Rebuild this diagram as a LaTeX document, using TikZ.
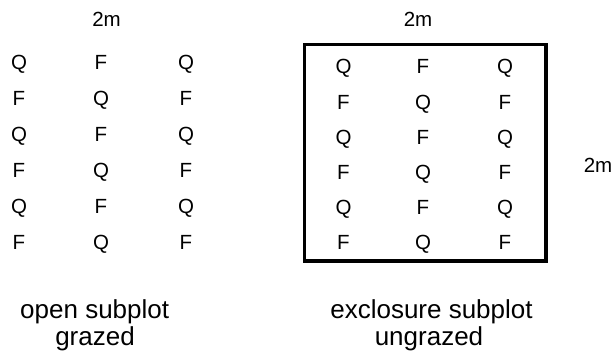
\documentclass[tikz,border=0pt]{standalone}
\usepackage{fontspec}
\setmainfont{Liberation Sans}
\begin{document}
\begin{tikzpicture}[x=1pt,y=-1pt,
  letter/.style={inner sep=0pt,anchor=base,font=\fontsize{20.5}{24}\selectfont},
  dim/.style={inner sep=0pt,anchor=base,font=\fontsize{20.5}{24}\selectfont},
  caption/.style={inner sep=0pt,anchor=base,font=\fontsize{26}{30}\selectfont},
  fence/.style={draw=black,line width=3.5pt}]
\useasboundingbox (0,0) rectangle (614,356);
% open subplot grid
\foreach \r [evaluate=\r as \yy using 61.7+36*(\r-1)+7.3] in {1,...,6}{
  \foreach \c/\xx in {1/19,2/101,3/186}{
    \pgfmathtruncatemacro{\odd}{mod(\r+\c,2)}
    \ifnum\odd=0
      \node[letter] (L-\r-\c) at (\xx,\yy) {Q};
    \else
      \node[letter] (L-\r-\c) at (\xx,\yy) {F};
    \fi
  }
}
% exclosure subplot grid
\foreach \r [evaluate=\r as \yy using 66.7+35*(\r-1)+7.3] in {1,...,6}{
  \foreach \c/\xx in {1/343.5,2/423,3/505}{
    \pgfmathtruncatemacro{\odd}{mod(\r+\c,2)}
    \ifnum\odd=0
      \node[letter] (R-\r-\c) at (\xx,\yy) {Q};
    \else
      \node[letter] (R-\r-\c) at (\xx,\yy) {F};
    \fi
  }
}
% fence
\coordinate (fenceNW) at (304.5,44.7);
\coordinate (fenceSE) at (546,261);
\draw[fence] (fenceNW) rectangle (fenceSE);
% dimensions
\node[dim] (dimL) at (106.5,26.5) {2m};
\node[dim] (dimR) at (418,26.5) {2m};
\node[dim] (dimS) at (598,172) {2m};
% captions
\node[caption] (capL1) at (94.7,318) {open subplot};
\node[caption] (capL2) at (95,345) {grazed};
\node[caption] (capR1) at (431.5,318) {exclosure subplot};
\node[caption] (capR2) at (429,345) {ungrazed};
\end{tikzpicture}
\end{document}
